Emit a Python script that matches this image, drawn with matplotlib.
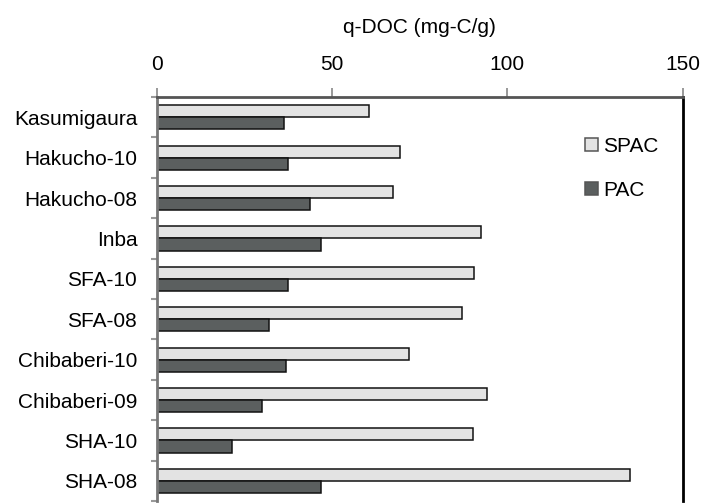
import numpy as np
import matplotlib
matplotlib.use('Agg')
import matplotlib.pyplot as plt
from matplotlib.ticker import FixedLocator

plt.rcParams['font.family'] = ['Liberation Sans', 'DejaVu Sans']

# Samples, top to bottom
samples = ['Kasumigaura', 'Hakucho-10', 'Hakucho-08', 'Inba', 'SFA-10',
           'SFA-08', 'Chibaberi-10', 'Chibaberi-09', 'SHA-10', 'SHA-08']
spac = [60.4, 69.5, 67.4, 92.6, 90.5, 87.2, 72.0, 94.2, 90.1, 134.9]
pac = [36.2, 37.5, 43.6, 46.9, 37.4, 32.1, 37.0, 30.0, 21.4, 46.9]
xticks = [0, 50, 100, 150]

fs = 15

fig = plt.figure(figsize=(7.06, 5.03), dpi=100)
ax = fig.add_axes([0.222, 0.004, 0.745, 0.803])

yy = np.arange(len(samples))
hh = 0.3
ax.barh(yy - hh/2, spac, height=hh, color='#e3e3e3', edgecolor='#111111',
        linewidth=1.1, label='SPAC')
ax.barh(yy + hh/2, pac, height=hh, color='#5b5f5f', edgecolor='#111111',
        linewidth=1.1, label='PAC')

ax.set_xlim(0, 150)
ax.set_ylim(len(samples) - 0.5, -0.5)

# x axis on top
ax.xaxis.tick_top()
ax.xaxis.set_label_position('top')
ax.set_xticks(xticks)
ax.set_xticklabels([str(v) for v in xticks], fontsize=fs)
ax.tick_params(axis='x', direction='out', length=6.5, width=1.2,
               color='#888888', pad=10)
ax.set_xlabel('q-DOC (mg-C/g)', fontsize=fs, labelpad=16)

# categories, ticks between groups
ax.set_yticks(yy)
ax.set_yticklabels(samples, fontsize=fs)
ax.tick_params(axis='y', which='major', length=0, pad=14)
ax.yaxis.set_minor_locator(FixedLocator(np.arange(-0.5, len(samples), 1.0)))
ax.tick_params(axis='y', which='minor', direction='out', length=4,
               width=1.5, color='#999999')

ax.spines['top'].set_color('#555555')
ax.spines['top'].set_linewidth(2)
ax.spines['left'].set_color('#777777')
ax.spines['left'].set_linewidth(2)
ax.spines['right'].set_color('#000000')
ax.spines['right'].set_linewidth(2)
ax.spines['bottom'].set_visible(False)

leg = ax.legend(loc='upper left', bbox_to_anchor=(0.795, 0.928), frameon=False,
                fontsize=fs, handlelength=0.6, handleheight=0.6,
                handletextpad=0.25, labelspacing=1.2, borderpad=0)
for p in leg.get_patches():
    p.set_edgecolor('#555555')

fig.savefig('out.png', dpi=100)
